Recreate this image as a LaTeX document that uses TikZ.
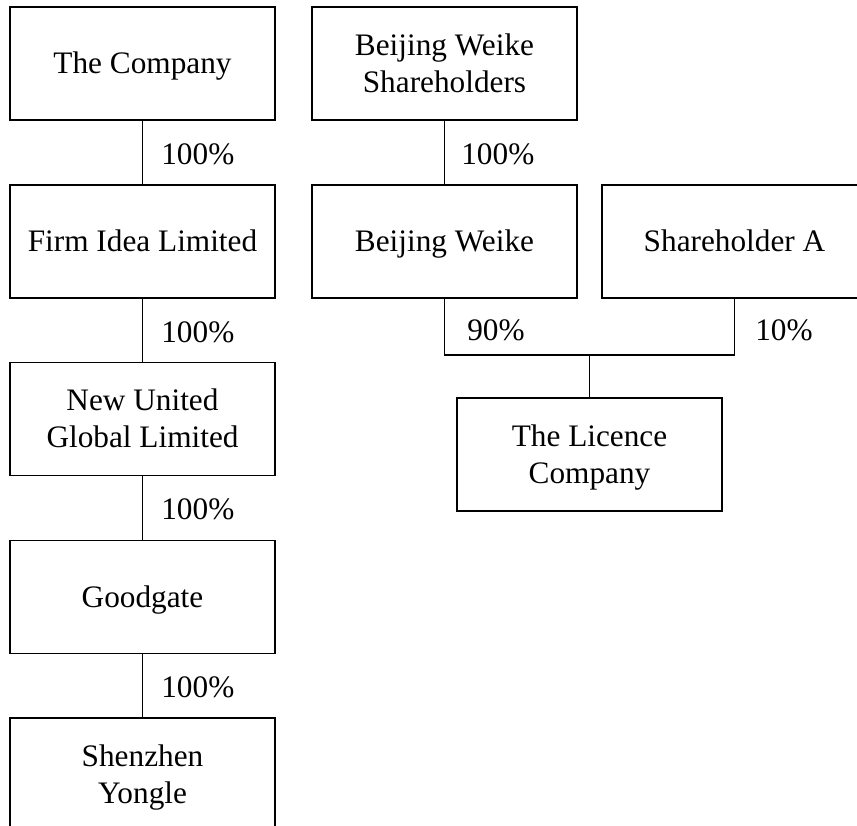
\documentclass[tikz,border=0pt]{standalone}
\usepackage{fontspec}
\setmainfont{Liberation Serif}
\begin{document}
\begin{tikzpicture}[
  entity/.style={draw,line width=0.8pt,inner sep=0pt,minimum width=5.3cm,minimum height=2.26cm,align=center,
    font=\fontsize{17.8}{21}\selectfont,text height=16.4pt,text depth=4.6pt},
  twoline/.style={entity,text height=37.4pt},
  share/.style={anchor=west,inner sep=0pt,font=\fontsize{17.8}{21}\selectfont},
  link/.style={line width=0.8pt}]
\useasboundingbox (0,0) rectangle (17.14,-16.52);
\clip (0,0) rectangle (17.14,-16.52);

\node[entity] (company) at (2.85,-1.27) {The Company};
\node[entity] (firmidea) at (2.85,-4.83) {Firm Idea Limited};
\node[twoline] (newunited) at (2.85,-8.38) {New United\\Global Limited};
\node[entity] (goodgate) at (2.85,-11.94) {Goodgate};
\node[twoline] (shenzhen) at (2.85,-15.49) {Shenzhen\\Yongle};

\node[twoline] (bwholders) at (8.89,-1.27) {Beijing Weike\\Shareholders};
\node[entity] (bweike) at (8.89,-4.83) {Beijing Weike};
\node[entity] (holdera) at (14.69,-4.83) {Shareholder A};
\node[twoline] (licence) at (11.79,-9.09) {The Licence\\Company};

\coordinate (join) at (11.79,-7.10);

\draw[link] (company) -- (firmidea);
\draw[link] (firmidea) -- (newunited);
\draw[link] (newunited) -- (goodgate);
\draw[link] (goodgate) -- (shenzhen);
\draw[link] (bwholders) -- (bweike);
\draw[link] (bweike.south) |- (join) -| (holdera.south);
\draw[link] (join) -- (licence.north);

\node[share] (pctfirm) at (3.22,-3.08) {100\%};
\node[share] (pctnew) at (3.22,-6.64) {100\%};
\node[share] (pctgood) at (3.22,-10.18) {100\%};
\node[share] (pctshen) at (3.22,-13.74) {100\%};
\node[share] (pctweike) at (9.22,-3.08) {100\%};
\node[share] (pctninety) at (9.34,-6.60) {90\%};
\node[share] (pctten) at (15.10,-6.60) {10\%};

\end{tikzpicture}
\end{document}
